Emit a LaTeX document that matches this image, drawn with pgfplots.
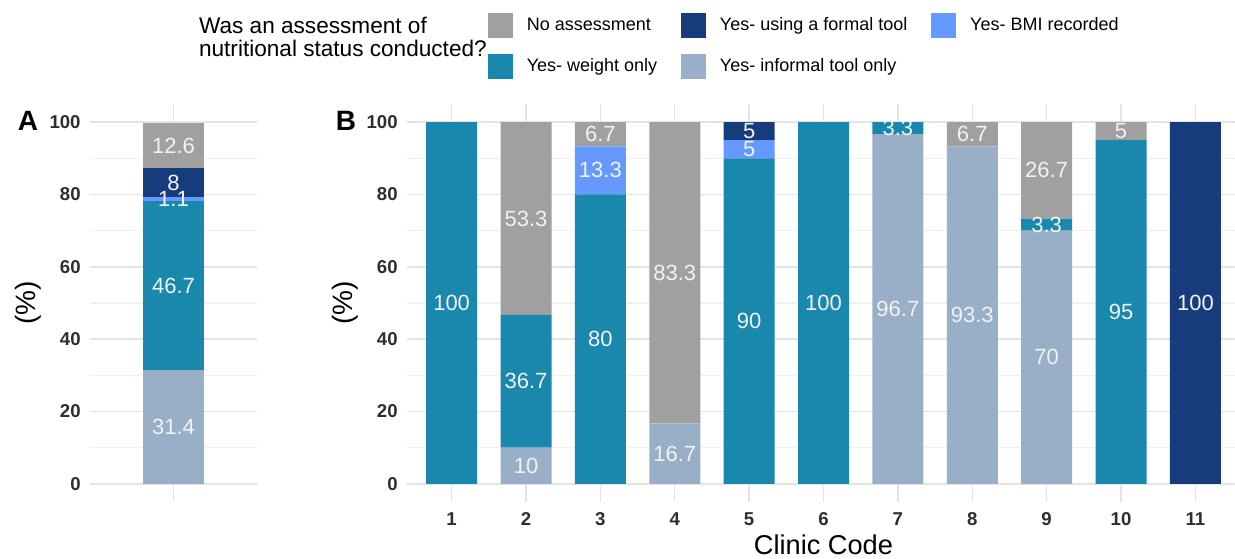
\documentclass[border=0pt]{standalone}
\usepackage{pgfplots}
\usepackage{pgfplotstable}
\pgfplotsset{compat=1.18}
\usepackage{fontspec}
\setmainfont{Liberation Sans}

\definecolor{cNo}{HTML}{A0A0A0}
\definecolor{cFormal}{HTML}{163C7C}
\definecolor{cBMI}{HTML}{6699FF}
\definecolor{cWeight}{HTML}{1A87AD}
\definecolor{cInformal}{HTML}{99AFC8}
\definecolor{gridmaj}{HTML}{E4E4E4}
\definecolor{gridmin}{HTML}{F1F1F1}
\definecolor{lblc}{HTML}{F2F2F2}

% overall (all clinics)
\pgfplotstableread{
x informal weight bmi formal no
1 31.4 46.7 1.1 8 12.6
}\overall

% by clinic
\pgfplotstableread{
clinic informal weight bmi formal no
1 0 100 0 0 0
2 10 36.7 0 0 53.3
3 0 80 13.3 0 6.7
4 16.7 0 0 0 83.3
5 0 90 5 5 0
6 0 100 0 0 0
7 96.7 3.3 0 0 0
8 93.3 0 0 0 6.7
9 70 3.3 0 0 26.7
10 0 95 0 0 5
11 0 0 0 100 0
}\clinics

\pgfplotsset{
  panel/.style={
    scale only axis, height=199pt,
    ymin=-5, ymax=105,
    ytick={0,20,...,100}, minor ytick={10,30,50,70,90},
    grid=both,
    major grid style={gridmaj, line width=0.7pt},
    minor grid style={gridmin, line width=0.6pt},
    axis line style={draw=none},
    major tick style={draw=none}, minor tick style={draw=none},
    /pgf/number format/assume math mode=true,
    ticklabel style={font=\fontsize{9.3}{10}\selectfont\bfseries, text=black!82},
    yticklabel style={inner sep=0pt, xshift=-4.5pt},
    ylabel={(\%)},
    ylabel style={font=\fontsize{14}{16}\selectfont},
  },
  lbls/.style={
    scale only axis, height=199pt, ymin=-5, ymax=105,
    hide axis, clip=false,
  },
  seg/.style={fill=#1, draw=none},
  vals/.style={draw=none, mark=none, nodes near coords, point meta=explicit symbolic,
    nodes near coords style={anchor=center, inner sep=0pt,
      font=\fontsize{11}{12}\selectfont, text=lblc}},
}

\begin{document}
\begin{tikzpicture}
\path[use as bounding box] (0,0) rectangle (617.5pt,279pt);

% ---------- panel A ----------
\begin{axis}[panel,
  at={(45pt,28pt)}, anchor=south west, width=83.5pt,
  xmin=0.4, xmax=1.6, xtick={1}, xticklabels={},
  ybar stacked, bar width=30.5pt,
  ylabel style={at={(axis description cs:-0.371,0.5)}, anchor=center},
]
\addplot[seg=cInformal] table[x=x, y=informal] {\overall};
\addplot[seg=cWeight]   table[x=x, y=weight] {\overall};
\addplot[seg=cBMI]      table[x=x, y=bmi] {\overall};
\addplot[seg=cFormal]   table[x=x, y=formal] {\overall};
\addplot[seg=cNo]       table[x=x, y=no] {\overall};
\end{axis}
\begin{axis}[lbls, at={(45pt,28pt)}, anchor=south west, width=83.5pt,
  xmin=0.4, xmax=1.6]
\addplot[vals] coordinates {(1,15.7)[31.4] (1,54.75)[46.7] (1,78.65)[1.1] (1,83.2)[8] (1,93.5)[12.6]};
\end{axis}

% ---------- panel B ----------
\begin{axis}[panel,
  at={(203.5pt,28pt)}, anchor=south west, width=416.5pt,
  xmin=0.4, xmax=11.6, xtick={1,...,11},
  xticklabel style={inner sep=0pt, yshift=-5pt},
  xlabel={Clinic Code},
  xlabel style={font=\fontsize{13.6}{15}\selectfont, at={(axis description cs:0.5,-0.108)}, anchor=center},
  ylabel style={at={(axis description cs:-0.0744,0.5)}, anchor=center},
  ybar stacked, bar width=25.5pt,
  legend columns=3,
  legend cell align=left,
  legend style={at={(axis description cs:0.0972,1.2286)}, anchor=north west,
    draw=none, fill=none, inner sep=0pt, outer sep=0pt,
    font=\fontsize{9}{10}\selectfont,
    nodes={inner sep=0pt},
    column sep=7pt, row sep=8pt,
    /tikz/every even column/.append style={column sep=12pt}},
]
\addlegendimage{legend image code/.code={\fill[cNo] (0pt,-6pt) rectangle (12pt,6pt);}}
\addlegendentry{No assessment}
\addlegendimage{legend image code/.code={\fill[cFormal] (0pt,-6pt) rectangle (12pt,6pt);}}
\addlegendentry{Yes- using a formal tool}
\addlegendimage{legend image code/.code={\fill[cBMI] (0pt,-6pt) rectangle (12pt,6pt);}}
\addlegendentry{Yes- BMI recorded}
\addlegendimage{legend image code/.code={\fill[cWeight] (0pt,-6pt) rectangle (12pt,6pt);}}
\addlegendentry{Yes- weight only}
\addlegendimage{legend image code/.code={\fill[cInformal] (0pt,-6pt) rectangle (12pt,6pt);}}
\addlegendentry{Yes- informal tool only}

\addplot[seg=cInformal] table[x=clinic, y=informal] {\clinics};
\addplot[seg=cWeight]   table[x=clinic, y=weight] {\clinics};
\addplot[seg=cBMI]      table[x=clinic, y=bmi] {\clinics};
\addplot[seg=cFormal]   table[x=clinic, y=formal] {\clinics};
\addplot[seg=cNo]       table[x=clinic, y=no] {\clinics};
\end{axis}
\begin{axis}[lbls, at={(203.5pt,28pt)}, anchor=south west, width=416.5pt,
  xmin=0.4, xmax=11.6]
\addplot[vals] coordinates {
  (1,50)[100]
  (2,5)[10] (2,28.35)[36.7] (2,73.35)[53.3]
  (3,40)[80] (3,86.65)[13.3] (3,96.65)[6.7]
  (4,8.35)[16.7] (4,58.35)[83.3]
  (5,45)[90] (5,92.5)[5] (5,97.5)[5]
  (6,50)[100]
  (7,48.35)[96.7] (7,98.35)[3.3]
  (8,46.65)[93.3] (8,96.65)[6.7]
  (9,35)[70] (9,71.65)[3.3] (9,86.65)[26.7]
  (10,47.5)[95] (10,97.5)[5]
  (11,50)[100]
};
\end{axis}

\node[anchor=west, align=left, font=\fontsize{11.3}{11.5}\selectfont] at (96pt,260.5pt)
  {Was an assessment of\\nutritional status conducted?};
\node[font=\fontsize{14}{14}\selectfont\bfseries] at (14pt,218.5pt) {A};
\node[font=\fontsize{14}{14}\selectfont\bfseries] at (173pt,218.5pt) {B};
\end{tikzpicture}
\end{document}
